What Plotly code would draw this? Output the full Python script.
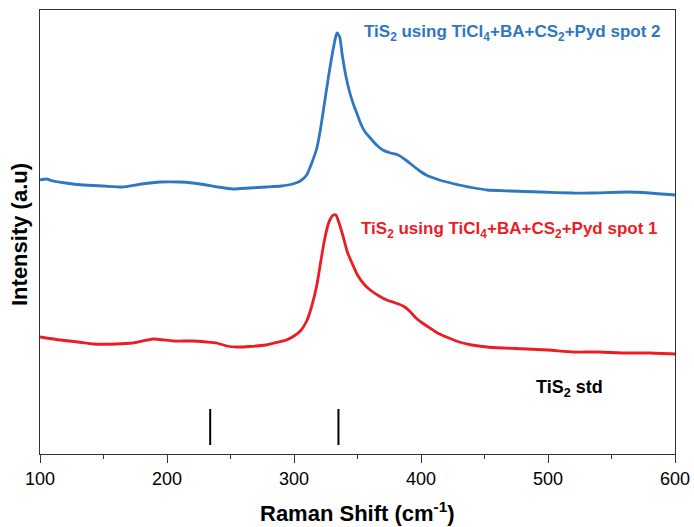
import plotly.graph_objects as go

# Raman shift (cm^-1) and intensity (a.u.), spot 2 (upper trace, offset)
shift_spot2 = [100, 105, 110, 120, 134, 150, 165, 180, 195, 210, 220, 231, 240, 252, 265, 278, 290, 299,
               305, 310, 314, 318, 321, 324, 327, 330, 333, 334, 336, 338, 341, 344, 347, 350, 353, 356,
               360, 365, 370, 376, 382, 388, 393, 398, 404, 410, 417, 425, 432, 442, 452, 470, 494, 520,
               535, 562, 580, 600]
int_spot2 = [274, 275, 273, 271, 269, 268, 267, 270, 272, 272, 271, 269, 267, 265, 266, 267, 268, 270,
             273, 279, 291, 306, 326, 351, 376, 399, 418, 421, 417, 399, 377, 361, 349, 339, 329, 322,
             316, 309, 304, 301, 299, 294, 289, 284, 279, 276, 273, 270.5, 268.5, 266, 264, 263, 262, 261,
             261, 262, 261, 259]

# Spot 1 (lower trace)
shift_spot1 = [100, 116, 130, 142, 160, 173, 189, 205, 220, 231, 239, 247, 255, 265, 278, 288, 294, 300,
               305, 310, 314, 318, 321, 324, 327, 329, 331, 333, 336, 339, 342, 346, 350, 355, 360, 367,
               373, 380, 386, 391, 396, 401, 407, 413, 420, 430, 440, 452, 465, 483, 500, 520, 540, 560,
               580, 600]
int_spot1 = [117, 114, 112, 110, 110, 111, 115, 113, 113, 112, 111, 108, 107, 107.5, 109, 112, 114, 118,
             123, 133, 148, 169, 192, 214, 230, 236, 239, 239, 229, 216, 202, 190, 179, 170, 164, 158,
             154, 151, 148, 143, 136, 131, 126, 121, 117, 112, 109, 107, 106, 105, 104, 102, 102, 101,
             101, 100]

# Reference peak positions of the TiS2 standard
std_peaks = [234, 335]
std_low, std_high = 9, 45

x_ticks = [100, 200, 300, 400, 500, 600]

BLUE = "#2F77C1"
RED = "#EC1C24"
FONT = "Liberation Sans, Arial, sans-serif"

fig = go.Figure()

fig.add_trace(go.Scatter(x=shift_spot2, y=int_spot2, mode="lines",
                         line=dict(color=BLUE, width=2.8, shape="spline", smoothing=0.5),
                         showlegend=False))
fig.add_trace(go.Scatter(x=shift_spot1, y=int_spot1, mode="lines",
                         line=dict(color=RED, width=2.8, shape="spline", smoothing=0.5),
                         showlegend=False))

std_x, std_y = [], []
for p in std_peaks:
    std_x += [p, p, None]
    std_y += [std_low, std_high, None]
fig.add_trace(go.Scatter(x=std_x, y=std_y, mode="lines",
                         line=dict(color="black", width=2), showlegend=False))

fig.add_annotation(x=472, y=421, xref="x", yref="y",
                   text="<b>TiS<sub>2</sub> using TiCl<sub>4</sub>+BA+CS<sub>2</sub>+Pyd spot 2</b>",
                   showarrow=False, font=dict(family=FONT, size=17, color=BLUE))
fig.add_annotation(x=470, y=224, xref="x", yref="y",
                   text="<b>TiS<sub>2</sub> using TiCl<sub>4</sub>+BA+CS<sub>2</sub>+Pyd spot 1</b>",
                   showarrow=False, font=dict(family=FONT, size=17, color=RED))
fig.add_annotation(x=517, y=66, xref="x", yref="y",
                   text="<b>TiS<sub>2</sub> std</b>",
                   showarrow=False, font=dict(family=FONT, size=18, color="black"))

# Axis titles
fig.add_annotation(x=0.5, y=-0.1306, xref="paper", yref="paper", xanchor="center", yanchor="middle",
                   text="<b>Raman Shift (cm<sup>-1</sup>)</b>", showarrow=False,
                   font=dict(family=FONT, size=22, color="black"))
fig.add_annotation(x=-0.0315, y=0.4955, xref="paper", yref="paper", xanchor="center", yanchor="middle",
                   text="<b>Intensity (a.u)</b>", showarrow=False, textangle=-90,
                   font=dict(family=FONT, size=22, color="black"))

fig.update_layout(
    width=694, height=527,
    margin=dict(l=40, r=19, t=10, b=73, autoexpand=False),
    paper_bgcolor="white", plot_bgcolor="white",
    font=dict(family=FONT, size=15, color="black"),
    xaxis=dict(range=[100, 600], tickvals=x_ticks, ticks="outside", ticklen=8, tickwidth=1.2,
               tickcolor="#333", showline=True, linecolor="#333", linewidth=1.3, mirror=True,
               showgrid=False, zeroline=False, automargin=False,
               minor=dict(dtick=50, tick0=100, ticks="outside", ticklen=4, tickcolor="#333", showgrid=False),
               tickfont=dict(size=18)),
    yaxis=dict(range=[0, 444], showticklabels=False, ticks="", showline=True, linecolor="#333",
               linewidth=1.3, mirror=True, showgrid=False, zeroline=False, automargin=False),
)

fig.write_html("out.html")
